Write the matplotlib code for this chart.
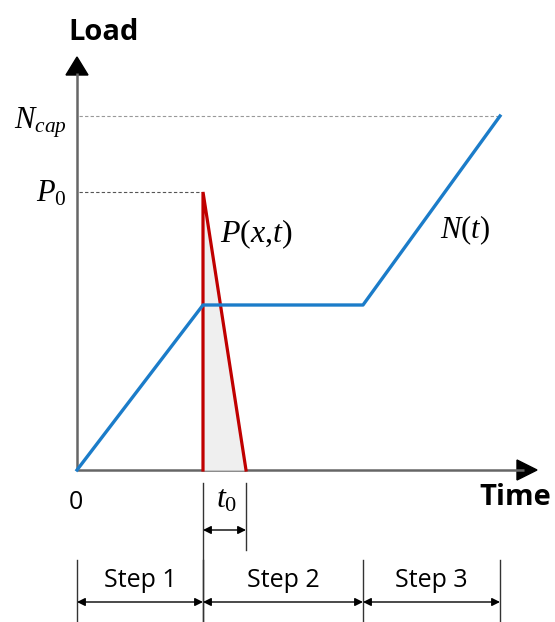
import matplotlib.pyplot as plt
from matplotlib.patches import Polygon

plt.rcParams['mathtext.fontset'] = 'custom'
plt.rcParams['mathtext.rm'] = 'Liberation Serif'
plt.rcParams['mathtext.it'] = 'Liberation Serif:italic'

# time marks (step boundaries) and load levels
t_steps = [0.0, 2.52, 5.72, 8.46]
t0 = 0.86
load_plateau = 3.3
load_p0 = 5.56
load_cap = 7.08

# N(t): ramp, hold, ramp up to capacity
n_time = [t_steps[0], t_steps[1], t_steps[2], t_steps[3]]
n_load = [0.0, load_plateau, load_plateau, load_cap]

# P(x,t): impulse at end of step 1 decaying over t0
p_time = [t_steps[1], t_steps[1], t_steps[1] + t0]
p_load = [0.0, load_p0, 0.0]

fig = plt.figure(figsize=(5.55, 6.22), dpi=100)
ax = fig.add_axes([0, 0, 1, 1])
ax.set_xlim(-77 / 50, (555 - 77) / 50)
ax.set_ylim(-(622 - 470) / 50, 470 / 50)
ax.axis('off')

axis_col = '#666666'
blue = '#1b7cc9'
red = '#c00000'

# axes with arrow heads
ax.plot([0, 8.95], [0, 0], color=axis_col, lw=1.8, solid_capstyle='butt')
ax.plot([0, 0], [0, 7.95], color=axis_col, lw=1.8, solid_capstyle='butt')
ax.add_patch(Polygon([[8.8, 0.2], [9.2, 0], [8.8, -0.2]], closed=True, color='black'))
ax.add_patch(Polygon([[-0.22, 7.9], [0, 8.26], [0.22, 7.9]], closed=True, color='black'))

# guide lines to load levels
ax.plot([0.05, t_steps[3]], [load_cap, load_cap], color='#999999', lw=0.8, ls=(0, (3, 2)))
ax.plot([0.05, t_steps[1]], [load_p0, load_p0], color='#555555', lw=0.8, ls=(0, (3, 2)))

# shaded P(x,t) area and curves
ax.fill(p_time, p_load, color='#efefef', zorder=2)
ax.plot(p_time, p_load, color=red, lw=2.3, zorder=3, solid_joinstyle='miter')
ax.plot(n_time, n_load, color=blue, lw=2.4, zorder=4)

# labels
ax.text(0.54, 8.6, 'Load', fontsize=21, fontweight='bold', family='Open Sans',
        ha='center', va='baseline')
ax.text(8.76, -0.70, 'Time', fontsize=21, fontweight='bold', family='Open Sans',
        ha='center', va='baseline')
ax.text(-0.02, -0.78, '0', fontsize=18, family='Open Sans', ha='center', va='baseline')
ax.text(-0.2, 6.84, r'$N_{cap}$', fontsize=22, ha='right', va='baseline')
ax.text(-0.2, 5.36, r'$P_0$', fontsize=22, ha='right', va='baseline')
ax.text(2.86, 4.56, r'$P(x{,}t)$', fontsize=23, ha='left', va='baseline')
ax.text(7.26, 4.64, r'$N(t)$', fontsize=22, ha='left', va='baseline')

# t0 dimension
arrow_kw = dict(arrowstyle='<|-|>', color='black', lw=1.0,
                mutation_scale=12, shrinkA=0, shrinkB=0)
ax.plot([t_steps[1], t_steps[1]], [-0.26, -3.1], color='#333333', lw=1.0)
ax.plot([t_steps[1] + t0, t_steps[1] + t0], [-0.26, -1.6], color='#333333', lw=1.0)
ax.annotate('', xy=(t_steps[1] + t0, -1.2), xytext=(t_steps[1], -1.2), arrowprops=arrow_kw)
ax.text(t_steps[1] + t0 / 2 + 0.05, -0.76, r'$t_0$', fontsize=23, ha='center', va='baseline')

# step dimensions
for t in t_steps:
    ax.plot([t, t], [-1.8, -3.1], color='#333333', lw=1.0)
for i, name in enumerate(['Step 1', 'Step 2', 'Step 3']):
    ax.annotate('', xy=(t_steps[i + 1], -2.64), xytext=(t_steps[i], -2.64), arrowprops=arrow_kw)
    ax.text((t_steps[i] + t_steps[i + 1]) / 2, -2.34, name, fontsize=18,
            family='Open Sans', ha='center', va='baseline')

fig.savefig('out.png', dpi=100)
